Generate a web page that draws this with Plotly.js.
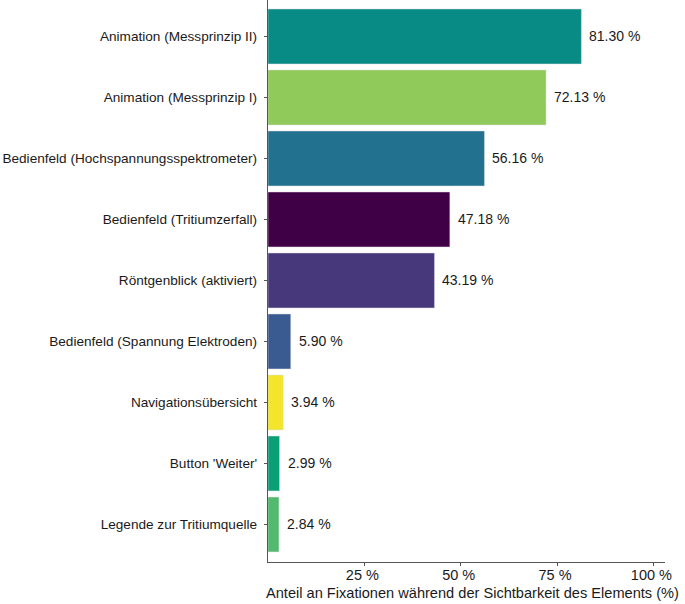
<!DOCTYPE html>
<html>
<head>
<meta charset="utf-8">
<script src="https://cdn.plot.ly/plotly-3.0.1.min.js"></script>
<style>html,body{margin:0;padding:0;background:#fff;}#chart{width:685px;height:604px;}</style>
</head>
<body>
<div id="chart"></div>
<script>
const categories = [
  "Animation (Messprinzip II)",
  "Animation (Messprinzip I)",
  "Bedienfeld (Hochspannungsspektrometer)",
  "Bedienfeld (Tritiumzerfall)",
  "Röntgenblick (aktiviert)",
  "Bedienfeld (Spannung Elektroden)",
  "Navigationsübersicht",
  "Button 'Weiter'",
  "Legende zur Tritiumquelle"
];
const values = [81.30, 72.13, 56.16, 47.18, 43.19, 5.90, 3.94, 2.99, 2.84];
const barColors = ["#088a85", "#8fca5a", "#21718f", "#3f0046", "#46387b", "#3a5a92", "#f2e52b", "#09a077", "#52ba6f"];
const tickVals = [25, 50, 75, 100];
const tickText = ["25 %\u00a0", "50 %\u00a0", "75 %\u00a0", "100 %\u00a0"];
const xTitle = "Anteil an Fixationen während der Sichtbarkeit des Elements (%)";

const font = "Liberation Sans, Arial, Helvetica, sans-serif";

const trace = {
  type: "bar",
  orientation: "h",
  x: values,
  y: categories,
  width: 0.9,
  marker: {color: barColors, line: {color: "rgba(220,220,220,0.8)", width: 0.6}},
  textposition: "none",
  hoverinfo: "skip",
  cliponaxis: false
};

const annotations = values.map((v, i) => ({
  x: v, y: categories[i], xref: "x", yref: "y",
  text: v.toFixed(2) + " %", showarrow: false,
  xanchor: "left", yanchor: "middle", xshift: 6,
  font: {family: font, size: 14, color: "#1a1a1a"}
}));
annotations.push({
  x: 0.5, y: 0, xref: "paper", yref: "paper",
  xanchor: "center", yanchor: "top", xshift: 6, yshift: -21,
  text: xTitle, showarrow: false,
  font: {family: font, size: 14.6, color: "#1a1a1a"}
});

const layout = {
  width: 685, height: 604,
  margin: {l: 268, r: 20, t: 0, b: 42},
  paper_bgcolor: "#fff", plot_bgcolor: "#fff",
  showlegend: false,
  font: {family: font, size: 13, color: "#1a1a1a"},
  xaxis: {
    range: [0, 103], tickvals: tickVals, ticktext: tickText,
    showgrid: false, zeroline: false, showline: true, linecolor: "#555", linewidth: 1.2,
    ticks: "outside", ticklen: 3, tickcolor: "#555",
    ticklabelstandoff: -4,
    tickfont: {family: font, size: 14.5, color: "#1a1a1a"}
  },
  yaxis: {
    type: "category", categoryorder: "array", categoryarray: categories,
    range: [8.615, -0.598],
    showgrid: false, zeroline: false, showline: true, linecolor: "#555", linewidth: 1.2,
    ticks: "outside", ticklen: 3, tickcolor: "#555",
    ticklabelstandoff: 4,
    tickfont: {family: font, size: 13.6, color: "#1a1a1a"}
  },
  annotations: annotations
};

Plotly.newPlot("chart", [trace], layout, {displayModeBar: false, staticPlot: true});
</script>
</body>
</html>
